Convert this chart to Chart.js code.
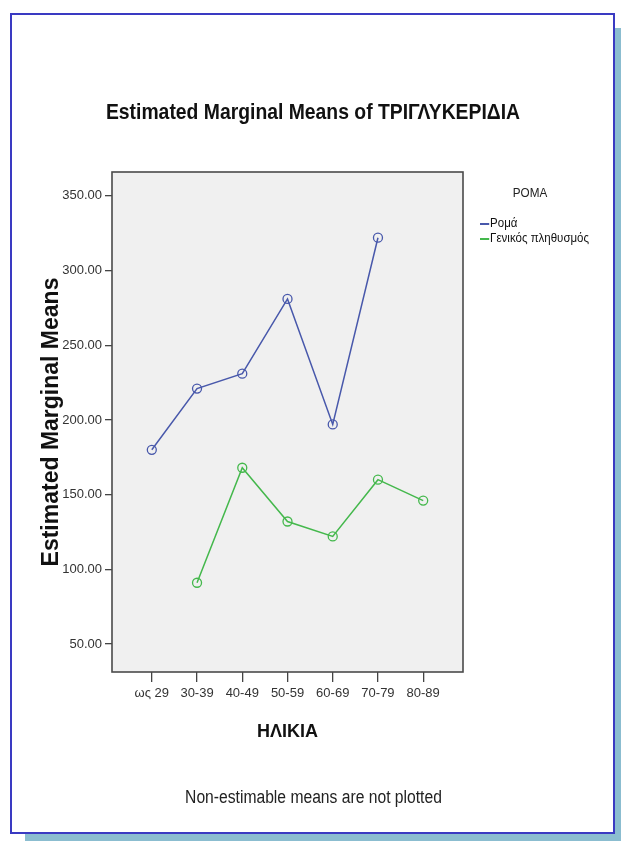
<!DOCTYPE html>
<html>
<head>
<meta charset="utf-8">
<script src="https://cdn.jsdelivr.net/npm/chart.js@4"></script>
<style>
  html, body { margin: 0; padding: 0; background: #fff; }
  body { width: 621px; height: 841px; position: relative; overflow: hidden;
         font-family: "Liberation Sans", Arial, sans-serif; }
  #frame { position: absolute; left: 10px; top: 13px; width: 605px; height: 821px; box-sizing: border-box;
           border: 2px solid #3a3ac2; background: #fff; box-shadow: 11px 11px 0 -4px #8bbdd0; }
  #wrap { position: absolute; left: 0; top: 0; width: 621px; height: 841px; }
  .txt { position: absolute; white-space: nowrap; color: #111; line-height: 1; }
  /* smal skrift som i SPSS-bildet */
  #title { left: 0; width: 626px; text-align: center; top: 102px; font-size: 21.5px; font-weight: bold;
           transform: scaleX(0.9); transform-origin: 313px 0; }
  #note { left: 0; width: 627px; text-align: center; top: 788px; font-size: 18px; color: #222;
          transform: scaleX(0.87); transform-origin: 313.5px 0; }
  #legTitle { left: 505px; width: 50px; text-align: center; top: 186px; font-size: 13px; color: #222;
              transform: scaleX(0.9); transform-origin: 25px 0; }
  .leg { left: 480px; font-size: 12.5px; color: #111; transform: scaleX(0.92); transform-origin: 0 0; }
  .leg i { display: inline-block; width: 10px; height: 2px; vertical-align: middle; margin-right: 1px; }
</style>
</head>
<body>
<div id="frame"></div>
<div id="wrap"><canvas id="chart"></canvas></div>
<div class="txt" id="title">Estimated Marginal Means of ΤΡΙΓΛΥΚΕΡΙΔΙΑ</div>
<div class="txt" id="legTitle">ΡΟΜΑ</div>
<div id="legend"></div>
<div class="txt" id="note">Non-estimable means are not plotted</div>
<script>
// Τιμές διαβασμένες από το διάγραμμα (null = δεν εκτιμάται)
const AGE_LABELS = ["ως 29", "30-39", "40-49", "50-59", "60-69", "70-79", "80-89"];
const ROMA = [180, 221, 231, 281, 197, 322, null];
const GENERAL = [null, 91, 168, 132, 122, 160, 146];
const Y_TICKS = [50, 100, 150, 200, 250, 300, 350];
const SERIES_NAMES = ["Ρομά", "Γενικός πληθυσμός"];
const SERIES_COLORS = ["#4858ab", "#44b84c"];

const FONT = '"Liberation Sans", Arial, sans-serif';

const toPoints = (arr) => arr.map((v, i) => ({ x: i, y: v }));

// grå bakgrunn + ramme rundt plottområdet
const plotBox = {
  id: "plotBox",
  beforeDatasetsDraw(chart) {
    const { ctx, chartArea: a } = chart;
    ctx.save();
    ctx.fillStyle = "#f0f0f0";
    ctx.fillRect(a.left, a.top, a.right - a.left, a.bottom - a.top);
    ctx.restore();
  },
  afterDatasetsDraw(chart) {
    const { ctx, chartArea: a } = chart;
    ctx.save();
    ctx.strokeStyle = "#4a4a4a";
    ctx.lineWidth = 1.6;
    ctx.strokeRect(a.left, a.top, a.right - a.left, a.bottom - a.top);
    ctx.restore();
  },
};

const datasets = [ROMA, GENERAL].map((vals, i) => ({
  label: SERIES_NAMES[i],
  data: toPoints(vals),
  borderColor: SERIES_COLORS[i],
  backgroundColor: "rgba(0,0,0,0)",
  borderWidth: 1.5,
  pointRadius: 4.5,
  pointBorderWidth: 1.3,
  pointBackgroundColor: "rgba(0,0,0,0)",
  pointBorderColor: SERIES_COLORS[i],
  tension: 0,
  spanGaps: false,
}));

new Chart(document.getElementById("chart"), {
  type: "line",
  data: { datasets },
  plugins: [plotBox],
  options: {
    responsive: true,
    maintainAspectRatio: false,
    devicePixelRatio: 1,
    animation: false,
    layout: { padding: { top: 172, left: 0, right: 158, bottom: 69 } },
    plugins: { legend: { display: false }, tooltip: { enabled: false }, title: { display: false } },
    scales: {
      x: {
        type: "linear",
        min: -0.88,
        max: 6.88,
        afterBuildTicks: (s) => { s.ticks = AGE_LABELS.map((_, i) => ({ value: i })); },
        afterFit: (s) => { s.height = 100; },
        ticks: {
          autoSkip: false, maxRotation: 0, padding: 4, color: "#333",
          font: { family: FONT, size: 13 },
          callback: (v) => AGE_LABELS[v] ?? "",
        },
        grid: { drawOnChartArea: false, drawTicks: true, tickLength: 10, color: "#444", lineWidth: 1.3 },
        border: { display: false },
        title: {
          display: true, text: "ΗΛΙΚΙΑ", color: "#111",
          font: { family: FONT, size: 18, weight: "bold" },
          padding: { top: 0, bottom: 29 },
        },
      },
      y: {
        min: 31.25,
        max: 366,
        afterBuildTicks: (s) => { s.ticks = Y_TICKS.map((v) => ({ value: v })); },
        afterFit: (s) => { s.width = 112; },
        ticks: {
          padding: 3, color: "#333",
          font: { family: FONT, size: 13 },
          callback: (v) => v.toFixed(2),
        },
        grid: { drawOnChartArea: false, drawTicks: true, tickLength: 7, color: "#444", lineWidth: 1.3 },
        border: { display: false },
        title: {
          display: true, text: "Estimated Marginal Means", color: "#111",
          font: { family: FONT, size: 23, weight: "bold" },
          padding: { top: 38, bottom: 0 },
        },
      },
    },
  },
});

// forklaring bygget fra seriene
document.getElementById("legend").innerHTML = SERIES_NAMES.map((n, i) =>
  `<div class="txt leg" style="top:${217 + i * 15}px"><i style="background:${SERIES_COLORS[i]}"></i>${n}</div>`
).join("");
</script>
</body>
</html>
